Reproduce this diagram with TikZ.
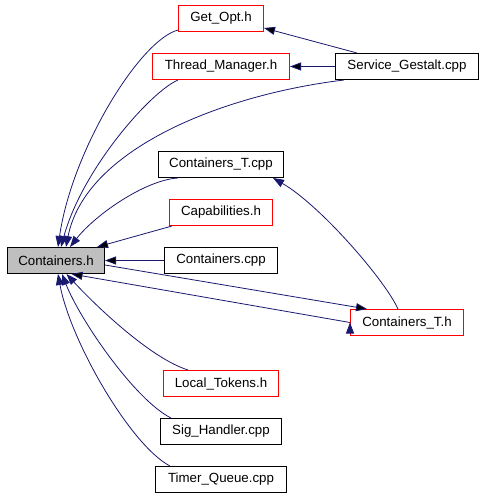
\documentclass[tikz,border=0pt]{standalone}
\usepackage{fontspec}
\setmainfont{Liberation Sans}
\usetikzlibrary{arrows.meta}
\usetikzlibrary{positioning}

\definecolor{edgeblue}{HTML}{191970}
\definecolor{curgray}{HTML}{BFBFBF}

\begin{document}
\begin{tikzpicture}[x=1pt,y=-1pt,node distance=48pt,
  font=\fontsize{13.3}{16}\selectfont,
  file/.style={draw=black,line width=1pt,minimum height=26pt,inner sep=0pt},
  redfile/.style={file,draw=red},
  dep/.style={->,>={Triangle[length=11pt,width=8pt]},draw=edgeblue,line width=0.8pt}]
  \useasboundingbox (0,0) rectangle (483,496);

  \node[file,fill=curgray,minimum width=97pt] (ch) at (56,260.5) {Containers.h};
  \node[file,minimum width=113pt] (ccpp) [right of=ch, node distance=165pt] {Containers.cpp};
  \node[redfile,minimum width=103pt] (cap) [above of=ccpp] {Capabilities.h};
  \node[file,minimum width=125pt] (ctcpp) [above of=cap] {Containers\_T.cpp};
  \node[redfile,minimum width=137pt] (tm) [above of=ctcpp, node distance=98pt] {Thread\_Manager.h};
  \node[redfile,minimum width=85pt] (go) [above of=tm] {Get\_Opt.h};
  \node[file,minimum width=143pt] (sg) [right of=tm, node distance=186pt] {Service\_Gestalt.cpp};
  \node[redfile,minimum width=113pt] (cth) [below of=sg, node distance=256pt] {Containers\_T.h};
  \node[redfile,minimum width=115pt] (lt) [below of=ccpp, node distance=123pt] {Local\_Tokens.h};
  \node[file,minimum width=121pt] (sh) [below of=lt] {Sig\_Handler.cpp};
  \node[file,minimum width=131pt] (tq) [below of=sh] {Timer\_Queue.cpp};

  % straight ones
  \draw[dep]
    (sg.west) edge (tm.east)
    ([xshift=-50pt]sg.north) edge ([yshift=-9.5pt]go.east)
    (ccpp.west) edge (ch.east)
    ([xshift=3pt]cap.south west) edge ([xshift=41pt]ch.north)
    ([yshift=-4.5pt]ch.east) edge ([xshift=17pt]cth.north west)
    (cth.west) edge ([xshift=15.5pt]ch.south);

  % curved ones
  \draw[dep] (go.195) .. controls (140,40) and (72,150) .. ([xshift=2pt]ch.north);
  \draw[dep] ([xshift=26pt]tm.south west) .. controls (150,92) and (82,170) .. ([xshift=5pt]ch.north);
  \draw[dep] ([xshift=9pt]sg.south west) .. controls (220,95) and (85,150) .. ([xshift=10pt]ch.north);
  \draw[dep] ([xshift=20pt]ctcpp.south west) .. controls (145,180) and (95,215) .. ([xshift=14pt]ch.north);
  \draw[dep] ([xshift=-9pt]cth.north) .. controls (385,280) and (320,205) .. ([xshift=-11pt]ctcpp.south east);
  \draw[dep] ([xshift=25pt]lt.north west) .. controls (150,358) and (95,305) .. ([xshift=10.5pt]ch.south);
  \draw[dep] ([xshift=11pt]sh.north west) .. controls (135,400) and (80,320) .. ([xshift=6pt]ch.south);
  \draw[dep] ([xshift=15pt]tq.north west) .. controls (130,445) and (70,340) .. ([xshift=2pt]ch.south);
\end{tikzpicture}
\end{document}
